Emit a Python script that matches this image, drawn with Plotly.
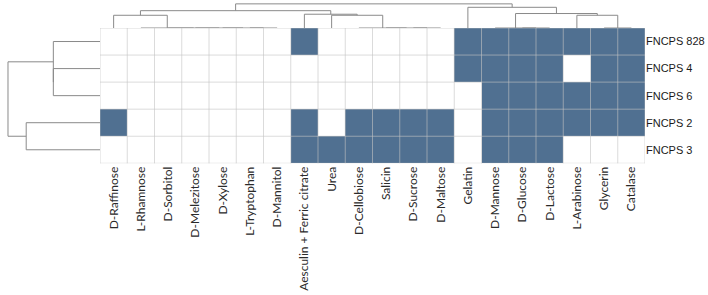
import numpy as np
import plotly.graph_objects as go

# ---------------- data ----------------
columns = ["D-Raffinose", "L-Rhamnose", "D-Sorbitol", "D-Melezitose", "D-Xylose",
           "L-Tryptophan", "D-Mannitol", "Aesculin + Ferric citrate", "Urea",
           "D-Cellobiose", "Salicin", "D-Sucrose", "D-Maltose", "Gelatin",
           "D-Mannose", "D-Glucose", "D-Lactose", "L-Arabinose", "Glycerin", "Catalase"]
strains = ["FNCPS 828", "FNCPS 4", "FNCPS 6", "FNCPS 2", "FNCPS 3"]

fncps_828 = [0, 0, 0, 0, 0, 0, 0, 1, 0, 0, 0, 0, 0, 1, 1, 1, 1, 1, 1, 1]
fncps_4   = [0, 0, 0, 0, 0, 0, 0, 0, 0, 0, 0, 0, 0, 1, 1, 1, 1, 0, 1, 1]
fncps_6   = [0, 0, 0, 0, 0, 0, 0, 0, 0, 0, 0, 0, 0, 0, 1, 1, 1, 1, 1, 1]
fncps_2   = [1, 0, 0, 0, 0, 0, 0, 1, 0, 1, 1, 1, 1, 0, 1, 1, 1, 1, 1, 1]
fncps_3   = [0, 0, 0, 0, 0, 0, 0, 1, 1, 1, 1, 1, 1, 0, 1, 1, 1, 0, 0, 0]

# cluster trees (leaf indices in display order)
col_tree = (((0, (1, (2, (3, (4, (5, 6)))))), (7, (8, (9, (10, (11, 12)))))),
            (13, ((14, (15, 16)), (17, (18, 19)))))
row_tree = ((0, (1, 2)), (3, 4))

Z = np.array([fncps_828, fncps_4, fncps_6, fncps_2, fncps_3], dtype=float)


def leaves(t):
    return [t] if isinstance(t, int) else leaves(t[0]) + leaves(t[1])


def dendro(tree, vecs):
    segs = []

    def rec(t):
        if isinstance(t, int):
            return float(t), 0.0
        pa, ha = rec(t[0])
        pb, hb = rec(t[1])
        la, lb = leaves(t[0]), leaves(t[1])
        h = np.mean([np.linalg.norm(vecs[i] - vecs[j]) for i in la for j in lb])
        segs.append(([pa, pa, pb, pb], [ha, h, h, hb]))
        return (pa + pb) / 2, h

    rec(tree)
    return segs


col_segs = dendro(col_tree, Z.T)
row_segs = dendro(row_tree, Z)

W, H = 708, 295
hx0, hx1 = 100 / W, 645 / W
hy1, hy0 = 1 - 28 / H, 1 - 163.3 / H

fig = go.Figure()
fig.add_trace(go.Heatmap(
    z=Z, x=list(range(len(columns))), y=list(range(len(strains))),
    colorscale=[[0, "#ffffff"], [1, "#507091"]], zmin=0, zmax=1,
    showscale=False, hoverinfo="skip", xaxis="x", yaxis="y"))

line_col = "#8a8a8a"
cx, cy = [], []
for xs, ys in col_segs:
    cx += xs + [None]
    cy += ys + [None]
fig.add_trace(go.Scatter(x=cx, y=cy, mode="lines", line=dict(color=line_col, width=1),
                         xaxis="x2", yaxis="y2", hoverinfo="skip", showlegend=False))
rx, ry = [], []
for ps, hs in row_segs:
    rx += hs + [None]
    ry += ps + [None]
fig.add_trace(go.Scatter(x=rx, y=ry, mode="lines", line=dict(color=line_col, width=1),
                         xaxis="x3", yaxis="y3", hoverinfo="skip", showlegend=False))

shapes = []
grid = "rgba(195,195,195,0.6)"
for i in range(len(columns) + 1):
    shapes.append(dict(type="line", xref="x", yref="y domain", x0=i - 0.5, x1=i - 0.5,
                       y0=0, y1=1, line=dict(color=grid, width=1)))
for j in range(len(strains) + 1):
    shapes.append(dict(type="line", xref="x domain", yref="y", x0=0, x1=1,
                       y0=j - 0.5, y1=j - 0.5, line=dict(color=grid, width=1)))

n_c, n_r = len(columns), len(strains)
fig.update_layout(
    width=W, height=H, margin=dict(l=0, r=0, t=0, b=0),
    paper_bgcolor="white", plot_bgcolor="white", showlegend=False,
    shapes=shapes,
    xaxis=dict(domain=[hx0, hx1], range=[-0.5, n_c - 0.5], tickmode="array",
               tickvals=list(range(n_c)), ticktext=columns, tickangle=-90,
               tickfont=dict(family="Lato", size=12, color="#2a2a2a"),
               showgrid=False, zeroline=False, ticks="", showline=False),
    yaxis=dict(domain=[hy0, hy1], range=[n_r - 0.5, -0.5], tickmode="array",
               tickvals=list(range(n_r)), ticktext=strains, side="right",
               tickfont=dict(family="Liberation Sans, Arial", size=11, color="#1a1a1a"),
               showgrid=False, zeroline=False, ticks="", showline=False),
    xaxis2=dict(domain=[hx0, hx1], range=[-0.5, n_c - 0.5], anchor="y2",
                visible=False),
    yaxis2=dict(domain=[hy1, 1], range=[0, 2.2], anchor="x2", visible=False),
    xaxis3=dict(domain=[0, hx0], range=[3.03, 0], anchor="y3", visible=False),
    yaxis3=dict(domain=[hy0, hy1], range=[n_r - 0.5, -0.5], anchor="x3", visible=False),
)

fig.write_html("out.html")
